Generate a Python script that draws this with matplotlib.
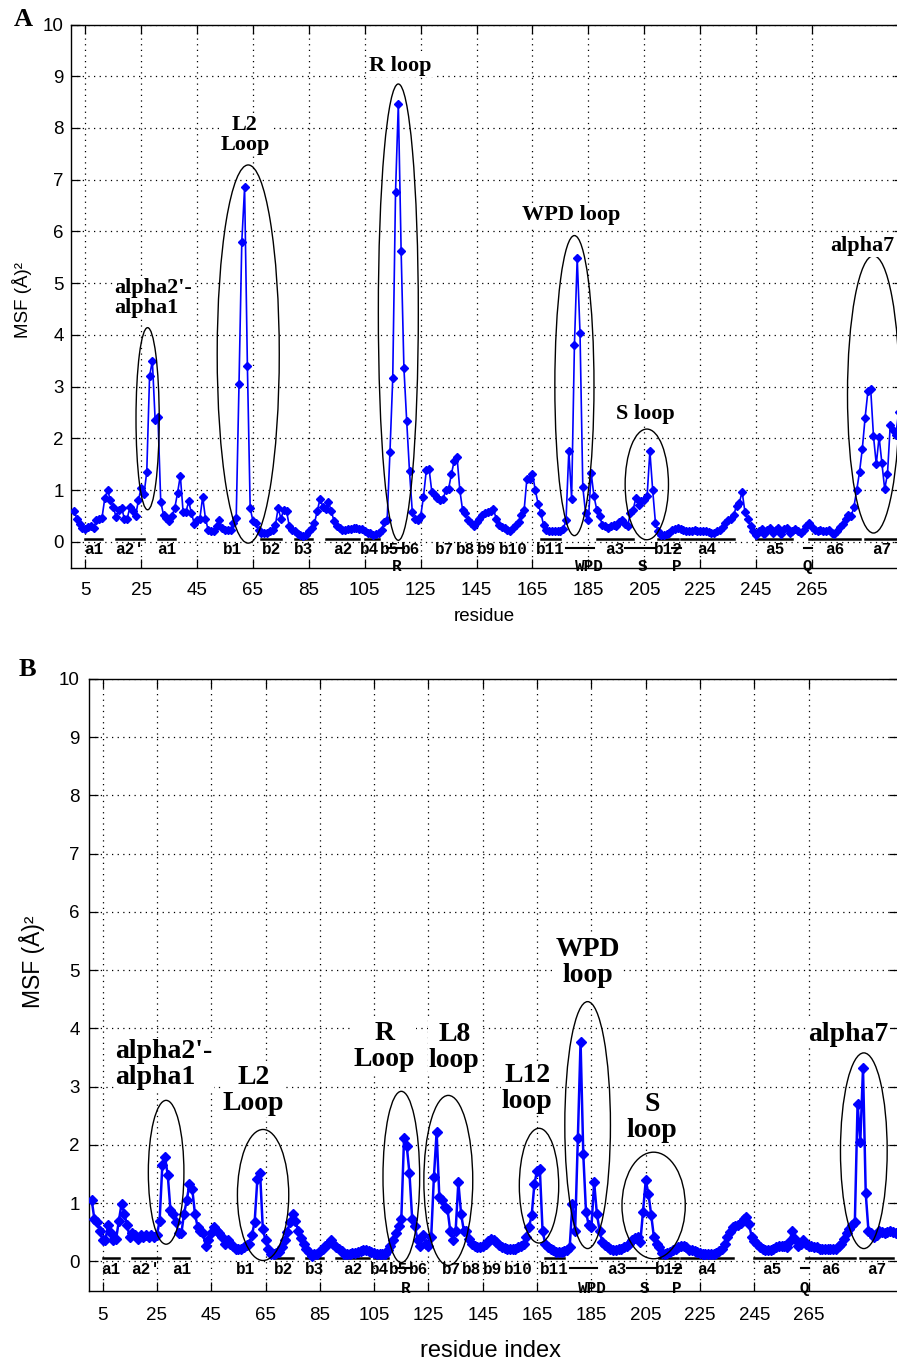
import matplotlib.pyplot as plt
from matplotlib.patches import Ellipse

plt.rcParams['font.family'] = 'Liberation Sans'

# данные: residue 1..297
residues = list(range(1, 298))

msf_a = [
    0.60, 0.45, 0.35, 0.27, 0.25, 0.28, 0.30, 0.27, 0.42, 0.45,
    0.47, 0.85, 1.00, 0.80, 0.68, 0.48, 0.62, 0.65, 0.45, 0.45,
    0.68, 0.60, 0.50, 0.80, 1.05, 0.92, 1.35, 3.20, 3.50, 2.35,
    2.42, 0.77, 0.52, 0.46, 0.40, 0.50, 0.65, 0.94, 1.28, 0.58,
    0.58, 0.78, 0.55, 0.35, 0.42, 0.45, 0.87, 0.45, 0.22, 0.20,
    0.20, 0.30, 0.42, 0.26, 0.23, 0.23, 0.23, 0.36, 0.46, 3.05,
    5.80, 6.85, 3.40, 0.65, 0.40, 0.37, 0.23, 0.18, 0.17, 0.17,
    0.20, 0.23, 0.32, 0.65, 0.45, 0.62, 0.60, 0.30, 0.22, 0.20,
    0.15, 0.13, 0.11, 0.13, 0.20, 0.27, 0.36, 0.60, 0.83, 0.68,
    0.64, 0.77, 0.60, 0.40, 0.30, 0.26, 0.23, 0.23, 0.24, 0.25,
    0.26, 0.26, 0.25, 0.24, 0.20, 0.18, 0.17, 0.14, 0.15, 0.17,
    0.23, 0.38, 0.42, 1.73, 3.16, 6.76, 8.47, 5.63, 3.36, 2.33,
    1.36, 0.58, 0.45, 0.42, 0.50, 0.87, 1.38, 1.41, 0.96, 0.90,
    0.85, 0.80, 0.83, 1.00, 1.03, 1.31, 1.57, 1.64, 1.00, 0.61,
    0.55, 0.42, 0.36, 0.31, 0.38, 0.45, 0.52, 0.55, 0.58, 0.60,
    0.64, 0.45, 0.32, 0.28, 0.26, 0.23, 0.21, 0.26, 0.32, 0.39,
    0.52, 0.61, 1.22, 1.22, 1.31, 1.00, 0.74, 0.55, 0.32, 0.23,
    0.20, 0.20, 0.20, 0.20, 0.20, 0.25, 0.42, 1.76, 0.83, 3.80,
    5.49, 4.04, 1.06, 0.55, 0.43, 1.33, 0.88, 0.62, 0.49, 0.33,
    0.30, 0.26, 0.30, 0.33, 0.30, 0.38, 0.43, 0.35, 0.30, 0.55,
    0.62, 0.85, 0.72, 0.78, 0.81, 0.88, 1.75, 1.00, 0.36, 0.20,
    0.14, 0.14, 0.16, 0.18, 0.22, 0.25, 0.26, 0.24, 0.22, 0.20,
    0.21, 0.20, 0.22, 0.20, 0.21, 0.20, 0.20, 0.19, 0.17, 0.18,
    0.20, 0.23, 0.28, 0.36, 0.42, 0.45, 0.52, 0.70, 0.75, 0.97,
    0.58, 0.45, 0.30, 0.20, 0.14, 0.20, 0.25, 0.15, 0.22, 0.27,
    0.18, 0.22, 0.26, 0.16, 0.24, 0.26, 0.18, 0.20, 0.25, 0.20,
    0.17, 0.22, 0.30, 0.36, 0.28, 0.23, 0.20, 0.22, 0.20, 0.20,
    0.22, 0.18, 0.15, 0.20, 0.28, 0.35, 0.45, 0.52, 0.49, 0.68,
    1.00, 1.35, 1.80, 2.40, 2.91, 2.95, 2.04, 1.50, 2.03, 1.52,
    1.02, 1.31, 2.26, 2.17, 2.07, 2.51, 3.60,
]

msf_b = [
    1.05, 0.72, 0.68, 0.53, 0.36, 0.36, 0.62, 0.48, 0.36, 0.39,
    0.70, 0.99, 0.82, 0.62, 0.42, 0.48, 0.45, 0.39, 0.45, 0.42,
    0.45, 0.42, 0.45, 0.42, 0.45, 0.70, 1.65, 1.79, 1.48, 0.88,
    0.82, 0.68, 0.48, 0.48, 0.82, 1.05, 1.33, 1.25, 0.82, 0.59,
    0.53, 0.48, 0.27, 0.36, 0.48, 0.59, 0.53, 0.48, 0.42, 0.30,
    0.36, 0.30, 0.27, 0.22, 0.22, 0.22, 0.25, 0.28, 0.30, 0.45,
    0.68, 1.42, 1.51, 0.56, 0.36, 0.22, 0.13, 0.12, 0.14, 0.16,
    0.25, 0.36, 0.50, 0.68, 0.82, 0.70, 0.53, 0.40, 0.30, 0.22,
    0.16, 0.10, 0.12, 0.13, 0.18, 0.22, 0.26, 0.30, 0.37, 0.30,
    0.25, 0.22, 0.18, 0.13, 0.13, 0.13, 0.14, 0.15, 0.16, 0.17,
    0.19, 0.19, 0.17, 0.16, 0.14, 0.12, 0.12, 0.13, 0.13, 0.20,
    0.27, 0.36, 0.48, 0.60, 0.73, 2.11, 1.98, 1.51, 0.73, 0.60,
    0.36, 0.27, 0.45, 0.30, 0.27, 0.42, 1.45, 2.22, 1.10, 1.05,
    0.93, 0.90, 0.53, 0.37, 0.53, 1.36, 0.82, 0.53, 0.53, 0.39,
    0.30, 0.27, 0.25, 0.25, 0.27, 0.30, 0.35, 0.39, 0.36, 0.33,
    0.28, 0.25, 0.23, 0.22, 0.22, 0.22, 0.22, 0.24, 0.27, 0.30,
    0.42, 0.59, 0.79, 1.33, 1.56, 1.59, 0.53, 0.30, 0.25, 0.22,
    0.19, 0.16, 0.16, 0.16, 0.17, 0.20, 0.25, 0.99, 0.53, 2.11,
    3.77, 1.84, 0.85, 0.62, 0.59, 1.36, 0.82, 0.53, 0.33, 0.28,
    0.25, 0.22, 0.19, 0.20, 0.21, 0.22, 0.25, 0.27, 0.30, 0.36,
    0.40, 0.42, 0.33, 0.85, 1.39, 1.16, 0.80, 0.42, 0.30, 0.25,
    0.15, 0.13, 0.14, 0.16, 0.19, 0.22, 0.25, 0.27, 0.26, 0.25,
    0.20, 0.19, 0.17, 0.16, 0.14, 0.13, 0.13, 0.13, 0.13, 0.13,
    0.14, 0.17, 0.22, 0.30, 0.42, 0.50, 0.59, 0.60, 0.62, 0.66,
    0.72, 0.76, 0.65, 0.42, 0.35, 0.30, 0.25, 0.22, 0.20, 0.19,
    0.20, 0.22, 0.24, 0.26, 0.27, 0.26, 0.25, 0.35, 0.53, 0.39,
    0.27, 0.30, 0.36, 0.30, 0.27, 0.26, 0.25, 0.24, 0.22, 0.22,
    0.22, 0.22, 0.22, 0.22, 0.22, 0.26, 0.30, 0.38, 0.48, 0.55,
    0.62, 0.68, 2.71, 2.05, 3.32, 1.17, 0.53, 0.48, 0.42, 0.45,
    0.53, 0.50, 0.48, 0.50, 0.53, 0.50, 0.48,
]

x_ticks = [5, 25, 45, 65, 85, 105, 125, 145, 165, 185, 205, 225, 245, 265]
y_ticks = [0, 1, 2, 3, 4, 5, 6, 7, 8, 9, 10]

# вторинна структура
ss_names = ["a1", "a2'", "a1", "b1", "b2", "b3", "a2", "b4", "b5", "b6", "b7",
            "b8", "b9", "b10", "b11", "a3", "b12", "a4", "a5", "a6", "a7"]
ss_start = [5, 16, 31, 55, 68, 80, 91, 105, 112, 118, 132,
            140, 148, 157, 168, 188, 210, 218, 245, 264, 284]
ss_end = [11, 26, 37, 60, 75, 86, 103, 110, 116, 122, 137,
          145, 153, 164, 175, 201, 217, 237, 258, 282, 296]
ss_label_x = [8, 21, 34, 57.5, 71.5, 83, 97, 106.8, 114, 121.2, 133.5,
              141, 148.5, 158, 171.5, 194.5, 213.5, 227.5, 251.5, 273, 290]
ss_bar = [1, 1, 1, 0, 1, 1, 1, 1, 0, 0, 0,
          0, 0, 0, 1, 1, 1, 1, 1, 1, 1]

loop_names = ["R", "WPD", "S", "P", "Q"]
loop_start = [113, 177, 198, 215, 262]
loop_end = [119, 187, 209, 218, 265]
loop_label_x = [116.5, 185.5, 204.5, 216.5, 263.5]

# підписи та еліпси, панель A
notes_a = ["alpha2'-\nalpha1", "L2\nLoop", "R loop", "WPD loop", "S loop", "alpha7"]
notes_a_x = [15.3, 62.1, 117.8, 179, 205.5, 271.5]
notes_a_y = [4.72, 7.87, 9.2, 6.32, 2.47, 5.72]
notes_a_ha = ['left', 'center', 'center', 'center', 'center', 'left']
ell_a_x = [27.3, 63.3, 117, 180, 205.9, 287]
ell_a_y = [2.38, 3.63, 4.44, 3.02, 1.11, 2.85]
ell_a_w = [8.3, 22.2, 14.3, 14, 15.5, 18.6]
ell_a_h = [3.52, 7.31, 8.82, 5.8, 2.14, 5.36]

# панель B
notes_b = ["alpha2'-\nalpha1", "L2\nLoop", "R\nLoop", "L8\nloop", "L12\nloop",
           "WPD\nloop", "S\nloop", "alpha7"]
notes_b_x = [9.6, 60.6, 108.7, 134.5, 161.4, 183.7, 207.4, 279.5]
notes_b_y = [3.38, 2.94, 3.69, 3.68, 2.97, 5.14, 2.47, 3.9]
notes_b_ha = ['left', 'center', 'center', 'center', 'center', 'center', 'center', 'center']
ell_b_x = [28.4, 64.1, 115, 132.3, 165.7, 183.6, 207.9, 285.3]
ell_b_y = [1.53, 1.14, 1.45, 1.39, 1.3, 2.34, 0.96, 1.9]
ell_b_w = [13.1, 18.9, 13.5, 18, 14.5, 16.8, 23.3, 17.2]
ell_b_h = [2.47, 2.25, 2.94, 2.92, 1.97, 4.24, 1.83, 3.36]

W, H = 897, 1364
fig = plt.figure(figsize=(W / 100, H / 100), dpi=100)

def px_axes(left, top, right, bottom):
    return fig.add_axes([left / W, 1 - bottom / H, (right - left) / W, (bottom - top) / H])

def draw_panel(ax, msf, notes, nx, ny, nha, nsize, nspacing,
               ex, ey, ew, eh, lw, ms, pad_x, pad_y, ss_size):
    ax.plot(residues, msf, '-D', color='#0000ff', lw=lw, ms=ms, zorder=3)
    for i in range(len(ex)):
        ax.add_patch(Ellipse((ex[i], ey[i]), ew[i], eh[i], fill=False,
                             edgecolor='k', lw=1.0, zorder=4))
    for i in range(len(notes)):
        ax.text(nx[i], ny[i], notes[i], ha=nha[i], va='center', multialignment=nha[i],
                family='Liberation Serif', weight='bold', fontsize=nsize,
                linespacing=nspacing, zorder=5,
                bbox=dict(facecolor='white', edgecolor='none', pad=1))
    # вторинна структура під кривою
    for i in range(len(ss_names)):
        if ss_bar[i]:
            ax.plot([ss_start[i], ss_end[i]], [0.05, 0.05], color='k', lw=1.8, zorder=2)
        ax.text(ss_label_x[i], -0.14, ss_names[i], ha='center', va='center',
                family='Liberation Mono', weight='bold', fontsize=ss_size, zorder=2)
    for i in range(len(loop_names)):
        ax.plot([loop_start[i], loop_end[i]], [-0.12, -0.12], color='k', lw=1.5, zorder=2)
        ax.text(loop_label_x[i], -0.47, loop_names[i], ha='center', va='center',
                family='Liberation Mono', weight='bold', fontsize=ss_size, zorder=2)

    ax.set_xlim(0, 297.7)
    ax.set_ylim(-0.5, 10)
    ax.set_xticks(x_ticks)
    ax.set_yticks(y_ticks)
    ax.grid(True, color='k', linestyle=(0, (1, 3.5)), linewidth=0.9)
    ax.set_axisbelow(True)
    ax.tick_params(direction='in', top=True, right=True, length=6.5, width=0.9,
                   labelsize=13.5)
    ax.tick_params(axis='x', pad=pad_x)
    ax.tick_params(axis='y', pad=pad_y)
    for s in ax.spines.values():
        s.set_linewidth(1.0)

# панель A
ax_a = px_axes(71.3, 24.5, 903.4, 567.7)
draw_panel(ax_a, msf_a, notes_a, notes_a_x, notes_a_y, notes_a_ha, 16, 1.0,
           ell_a_x, ell_a_y, ell_a_w, ell_a_h, 1.2, 4.5, 10, 5.5, 11.5)
ax_a.set_xlabel("residue", fontsize=13.5)
ax_a.xaxis.set_label_coords(0.496, -0.074)
ax_a.set_ylabel("MSF (Å)²", fontsize=13.5)
ax_a.yaxis.set_label_coords(-0.047, 0.493)

# панель B
ax_b = px_axes(89, 679, 897.5, 1290.5)
draw_panel(ax_b, msf_b, notes_b, notes_b_x, notes_b_y, notes_b_ha, 20, 1.05,
           ell_b_x, ell_b_y, ell_b_w, ell_b_h, 1.8, 5.5, 12, 6.5, 11.5)
ax_b.set_xlabel("residue index", fontsize=17)
ax_b.xaxis.set_label_coords(0.497, -0.081)
ax_b.set_ylabel("MSF (Å)²", fontsize=16.5)
ax_b.yaxis.set_label_coords(-0.054, 0.537)

fig.text(23 / W, 1 - 19.5 / H, "A", ha='center', va='center',
         family='Liberation Serif', weight='bold', fontsize=19)
fig.text(27 / W, 1 - 670 / H, "B", ha='center', va='center',
         family='Liberation Serif', weight='bold', fontsize=19)

fig.savefig("out.png", dpi=100)
